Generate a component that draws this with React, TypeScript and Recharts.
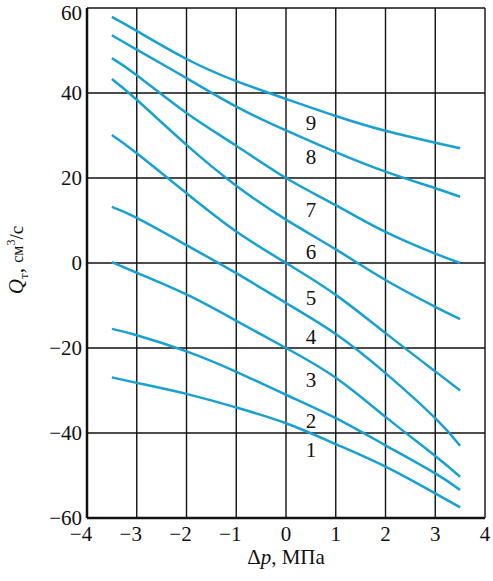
import { LineChart, Line, XAxis, YAxis, CartesianGrid, ReferenceDot, Label } from 'recharts';

// Δp, MPa
const dp = [-3.5, -3, -2, -1, 0, 1, 2, 3, 3.5];

// Q, cm³/s for curves 1..9
const q1 = [-26.9, -28.2, -30.8, -34, -37.7, -42.6, -47.9, -54.2, -57.5];
const q2 = [-15.5, -17, -20.8, -25.6, -31, -36.5, -42.9, -49.5, -53.4];
const q3 = [0.2, -2.3, -7.4, -13.6, -20, -27, -36.2, -45.4, -50.3];
const q4 = [13.2, 10.6, 4.2, -2.4, -9.4, -16.7, -25.9, -36.5, -43];
const q5 = [30.1, 25.8, 16.4, 7.4, 0, -7.5, -16.5, -25.5, -30];
const q6 = [43.3, 38.4, 27.8, 18.2, 10.2, 3.2, -4, -10.3, -13.2];
const q7 = [48.2, 44.2, 35.3, 27.6, 20, 13.6, 7.3, 2.2, 0];
const q8 = [53.6, 50.2, 43.5, 36.8, 31.2, 26.1, 21.5, 17.6, 15.6];
const q9 = [57.9, 54.6, 48, 42.8, 38.6, 34.6, 31.1, 28.3, 27];

const series = [q1, q2, q3, q4, q5, q6, q7, q8, q9];

// curve number labels (placed at Δp = 0.5)
const labelX = 0.5;
const labelY = [-44, -37, -27.5, -17.3, -8.2, 2.7, 12.5, 25, 33];

const xTicks = [-4, -3, -2, -1, 0, 1, 2, 3, 4];
const yTicks = [-60, -40, -20, 0, 20, 40, 60];

const data = dp.map((x, i) => {
  const row: Record<string, number> = { x };
  series.forEach((s, k) => {
    row[`q${k + 1}`] = s[i];
  });
  return row;
});

const FONT = '"Liberation Serif", "Times New Roman", serif';
const BLUE = '#17a1d2';
const fmt = (v: number) => (v < 0 ? `\u2212${Math.abs(v)}` : `${v}`);

const XTick = (props: any) => {
  const { x, y, payload } = props;
  const v = payload.value as number;
  return (
    <text
      x={v < 0 ? x - 6 : x}
      y={y}
      dy="0.71em"
      textAnchor="middle"
      fontFamily={FONT}
      fontSize={21}
      fill="#111"
    >
      {fmt(v)}
    </text>
  );
};

export default function App() {
  return (
    <div style={{ position: 'absolute', left: 0, top: 0, background: '#fff' }}>
      <LineChart
        width={493}
        height={581}
        data={data}
        margin={{ top: 8, right: 8, left: 0, bottom: 0 }}
      >
        <CartesianGrid stroke="#111" strokeWidth={1.4} horizontalValues={yTicks} verticalValues={xTicks} />
        <XAxis
          dataKey="x"
          type="number"
          domain={[-4, 4]}
          ticks={xTicks}
          height={63}
          tickLine={false}
          tickSize={0}
          tickMargin={8}
          tick={<XTick />}
          axisLine={{ stroke: '#111', strokeWidth: 2.5 }}
        >
          <Label
            content={(p: any) => {
              const vb = p.viewBox;
              return (
                <text
                  x={vb.x + vb.width / 2}
                  y={557}
                  dy="0.35em"
                  textAnchor="middle"
                  fontFamily={FONT}
                  fontSize={21}
                  fill="#111"
                >
                  Δ<tspan fontStyle="italic">p</tspan>, МПа
                </text>
              );
            }}
          />
        </XAxis>
        <YAxis
          type="number"
          domain={[-60, 60]}
          ticks={yTicks}
          width={87}
          tickLine={false}
          tickSize={0}
          tickMargin={5}
          tickFormatter={fmt}
          tick={{ fontFamily: FONT, fontSize: 21, fill: '#111' }}
          axisLine={{ stroke: '#111', strokeWidth: 2.5 }}
        >
          <Label
            content={() => (
              <text
                x={16}
                y={260}
                dy="0.35em"
                textAnchor="middle"
                transform="rotate(-90 16 260)"
                fontFamily={FONT}
                fontSize={21}
                fill="#111"
              >
                <tspan fontStyle="italic">Q</tspan>
                <tspan fontSize={13} dy="5">т</tspan>
                <tspan dy="-5">, </tspan>
                <tspan fontSize={16}>см</tspan>
                <tspan fontSize={12} dy="-8">3</tspan>
                <tspan dy="8" fontSize={19}>/с</tspan>
              </text>
            )}
          />
        </YAxis>
        {series.map((_, k) => (
          <Line
            key={k}
            type="natural"
            dataKey={`q${k + 1}`}
            stroke={BLUE}
            strokeWidth={2.5}
            dot={false}
            isAnimationActive={false}
          />
        ))}
        {labelY.map((y, k) => (
          <ReferenceDot
            key={`l${k}`}
            x={labelX}
            y={y}
            r={0}
            fill="none"
            stroke="none"
            label={{
              value: `${k + 1}`,
              position: 'center',
              fontFamily: FONT,
              fontSize: 21,
              fill: '#111',
            }}
          />
        ))}
      </LineChart>
    </div>
  );
}
